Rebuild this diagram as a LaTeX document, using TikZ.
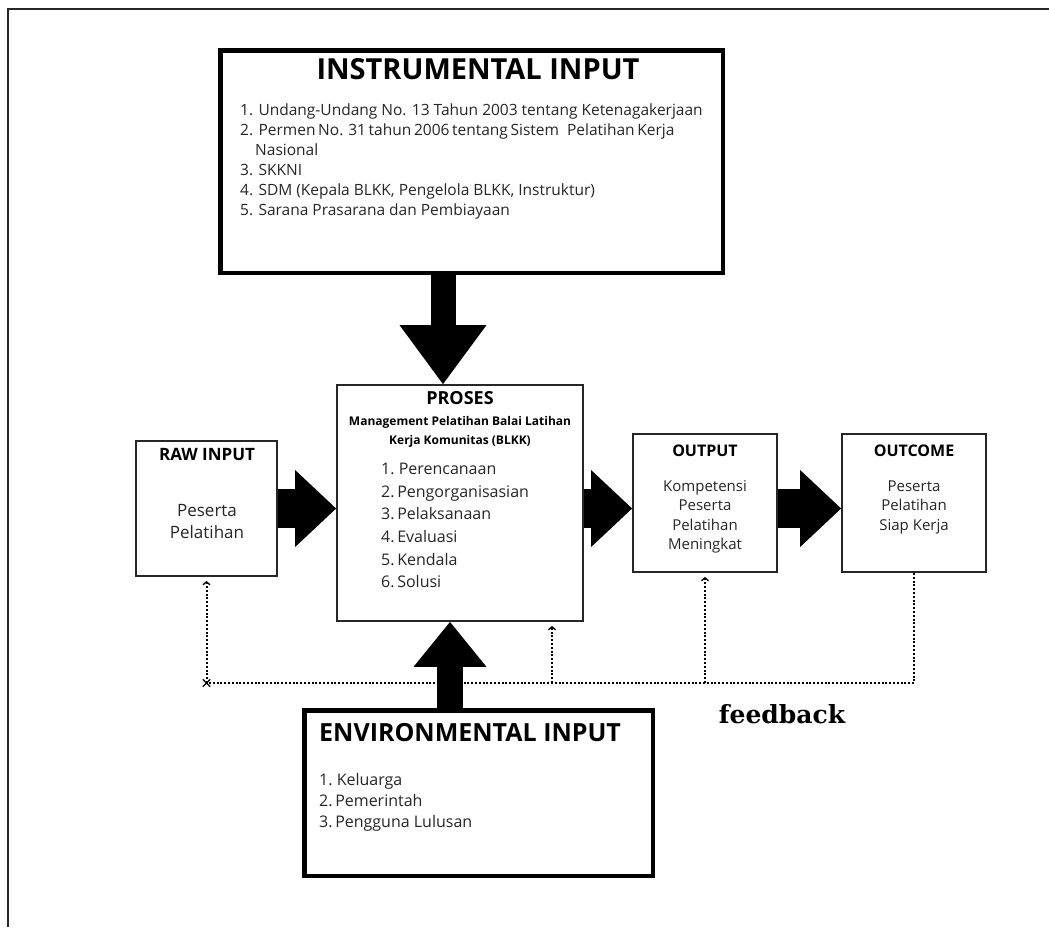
\documentclass[tikz,border=0pt]{standalone}
\usepackage{fontspec}
\setmainfont{Open Sans}
\newfontfamily\fbfont{DejaVu Serif}
\usetikzlibrary{arrows.meta,shapes.misc}
\newlength\instrw

\begin{document}
\begin{tikzpicture}[x=1pt,y=-1pt,
  thickbox/.style={draw, line width=4.5pt, inner sep=0pt},
  thinbox/.style={draw=black!85, line width=1.8pt, inner sep=0pt},
  txt/.style={inner sep=0pt, text height=0.72em, text depth=0.2em},
  fatarrow/.style={line width=39pt, -{Triangle[length=41pt,width=77pt,line width=0pt]}},
  downarrow/.style={line width=25pt, -{Triangle[length=59pt,width=87pt,line width=0pt]}},
  uparrow/.style={line width=26pt, -{Triangle[length=45pt,width=73pt,line width=0pt]}},
  fbline/.style={line width=2pt, dash pattern=on 2pt off 1.8pt},
  fbtip/.style={-{Straight Barb[length=3pt,width=7pt,line width=1.3pt]}, shorten >=4pt}]
\useasboundingbox (0,0) rectangle (1049,927);
% page frame
\draw[line width=1.5pt, black!85] (8,927) -- (8,9) -- (1049,9);

% Instrumental input
\node[thickbox, minimum width=502.5pt, minimum height=222.5pt] (instr) at (471.5,161.5) {};
\node[txt, font=\bfseries\fontsize{29}{29}\selectfont] (instrtitle) at (478,77) {INSTRUMENTAL INPUT};
\settowidth{\instrw}{\fontsize{15.5}{20}\selectfont 1. Undang-Undang No. 13 Tahun 2003 tentang Ketenagakerjaan}
\addtolength{\instrw}{8pt}
\begin{scope}[every node/.style={txt, anchor=west, text=black!85, font=\fontsize{15.5}{20}\selectfont}]
\node (instr1) at (240,113) {1. Undang-Undang No. 13 Tahun 2003 tentang Ketenagakerjaan};
\node (instr2) at (240,133) {\makebox[\instrw][s]{2.\ \ Permen No. 31 tahun 2006 tentang Sistem\ \ \ Pelatihan Kerja}};
\node (instr2b) at (255,153) {Nasional};
\node (instr3) at (240,173) {3. SKKNI};
\node (instr4) at (240,193) {4. SDM (Kepala BLKK, Pengelola BLKK, Instruktur)};
\node (instr5) at (240,213) {5. Sarana Prasarana dan Pembiayaan};
\end{scope}

% Proses
\node[thinbox, minimum width=246pt, minimum height=236pt] (proses) at (460,503) {};
\node[txt, font=\bfseries\fontsize{18}{18}\selectfont] (prosestitle) at (460,402) {PROSES};
\node[txt, font=\bfseries\fontsize{12}{12}\selectfont] (prosessub1) at (460,423) {Management Pelatihan Balai Latihan};
\node[txt, font=\bfseries\fontsize{12}{12}\selectfont] (prosessub2) at (460,442) {Kerja Komunitas (BLKK)};
\foreach \t [count=\i] in {1.\ Perencanaan, 2.\,Pengorganisasian, 3.\,Pelaksanaan, 4.\,Evaluasi, 5.\,Kendala, 6.\,Solusi}
  \node[txt, anchor=west, text=black!85, font=\fontsize{16}{16}\selectfont] (proses\i) at (381,449.5+22.6*\i) {\t};

% Raw input
\node[thinbox, minimum width=141pt, minimum height=135pt] (raw) at (206.5,508.5) {};
\node[txt, font=\bfseries\fontsize{17}{17}\selectfont] (rawtitle) at (207,458) {RAW INPUT};
\node[align=center, text=black!85, font=\fontsize{17}{22}\selectfont] (rawtext) at (207,522) {Peserta\\Pelatihan};

% Output
\node[thinbox, minimum width=144pt, minimum height=138pt] (output) at (705,503) {};
\node[txt, font=\bfseries\fontsize{16}{16}\selectfont] (outputtitle) at (705,454) {OUTPUT};
\node[align=center, text=black!85, font=\fontsize{15}{19.5}\selectfont] (outputtext) at (705,517) {Kompetensi\\Peserta\\Pelatihan\\Meningkat};

% Outcome
\node[thinbox, minimum width=144pt, minimum height=138pt] (outcome) at (914,503) {};
\node[txt, font=\bfseries\fontsize{16}{16}\selectfont] (outcometitle) at (914,454) {OUTCOME};
\node[align=center, text=black!85, font=\fontsize{15}{19.5}\selectfont] (outcometext) at (914,507) {Peserta\\Pelatihan\\Siap Kerja};

% Environmental input
\node[thickbox, minimum width=348.5pt, minimum height=165.5pt] (env) at (478.5,793) {};
\node[txt, anchor=west, font=\bfseries\fontsize{25}{25}\selectfont] (envtitle) at (319,739) {ENVIRONMENTAL INPUT};
\foreach \t [count=\i] in {1.\ Keluarga, 2.\,Pemerintah, 3.\,Pengguna Lulusan}
  \node[txt, anchor=west, text=black!85, font=\fontsize{16}{16}\selectfont] (env\i) at (319,762+21*\i) {\t};

% feedback
\coordinate (fbcorner) at (raw.south |- 0,683);
\coordinate (fbproses) at (552,683);
\draw[fbline] (outcome.south) |- (fbcorner);
\draw[fbline, fbtip] (fbcorner) -- (raw.south);
\draw[fbline, fbtip] (output.south |- fbcorner) -- (output.south);
\draw[fbline, fbtip] (fbproses) -- (fbproses |- proses.south);
\node[draw, cross out, minimum size=6pt, inner sep=0pt, line width=1.3pt] (fbcross) at (fbcorner) {};
\node[font=\fbfont\bfseries\fontsize{25}{25}\selectfont] (fbtext) at (782,714) {feedback};

% block arrows
\path ([xshift=-17pt]proses.north) coordinate (dtip);
\path ([xshift=-10pt]proses.south) coordinate (utip);
\draw[downarrow] (dtip |- instr.south) -- (dtip);
\draw[uparrow] (utip |- env.north) -- (utip);
\draw[fatarrow] (raw.east) -- (raw.east -| proses.west);
\draw[fatarrow] (proses.east |- raw.east) -- (output.west |- raw.east);
\draw[fatarrow] (output.east |- raw.east) -- (outcome.west |- raw.east);
\end{tikzpicture}
\end{document}
